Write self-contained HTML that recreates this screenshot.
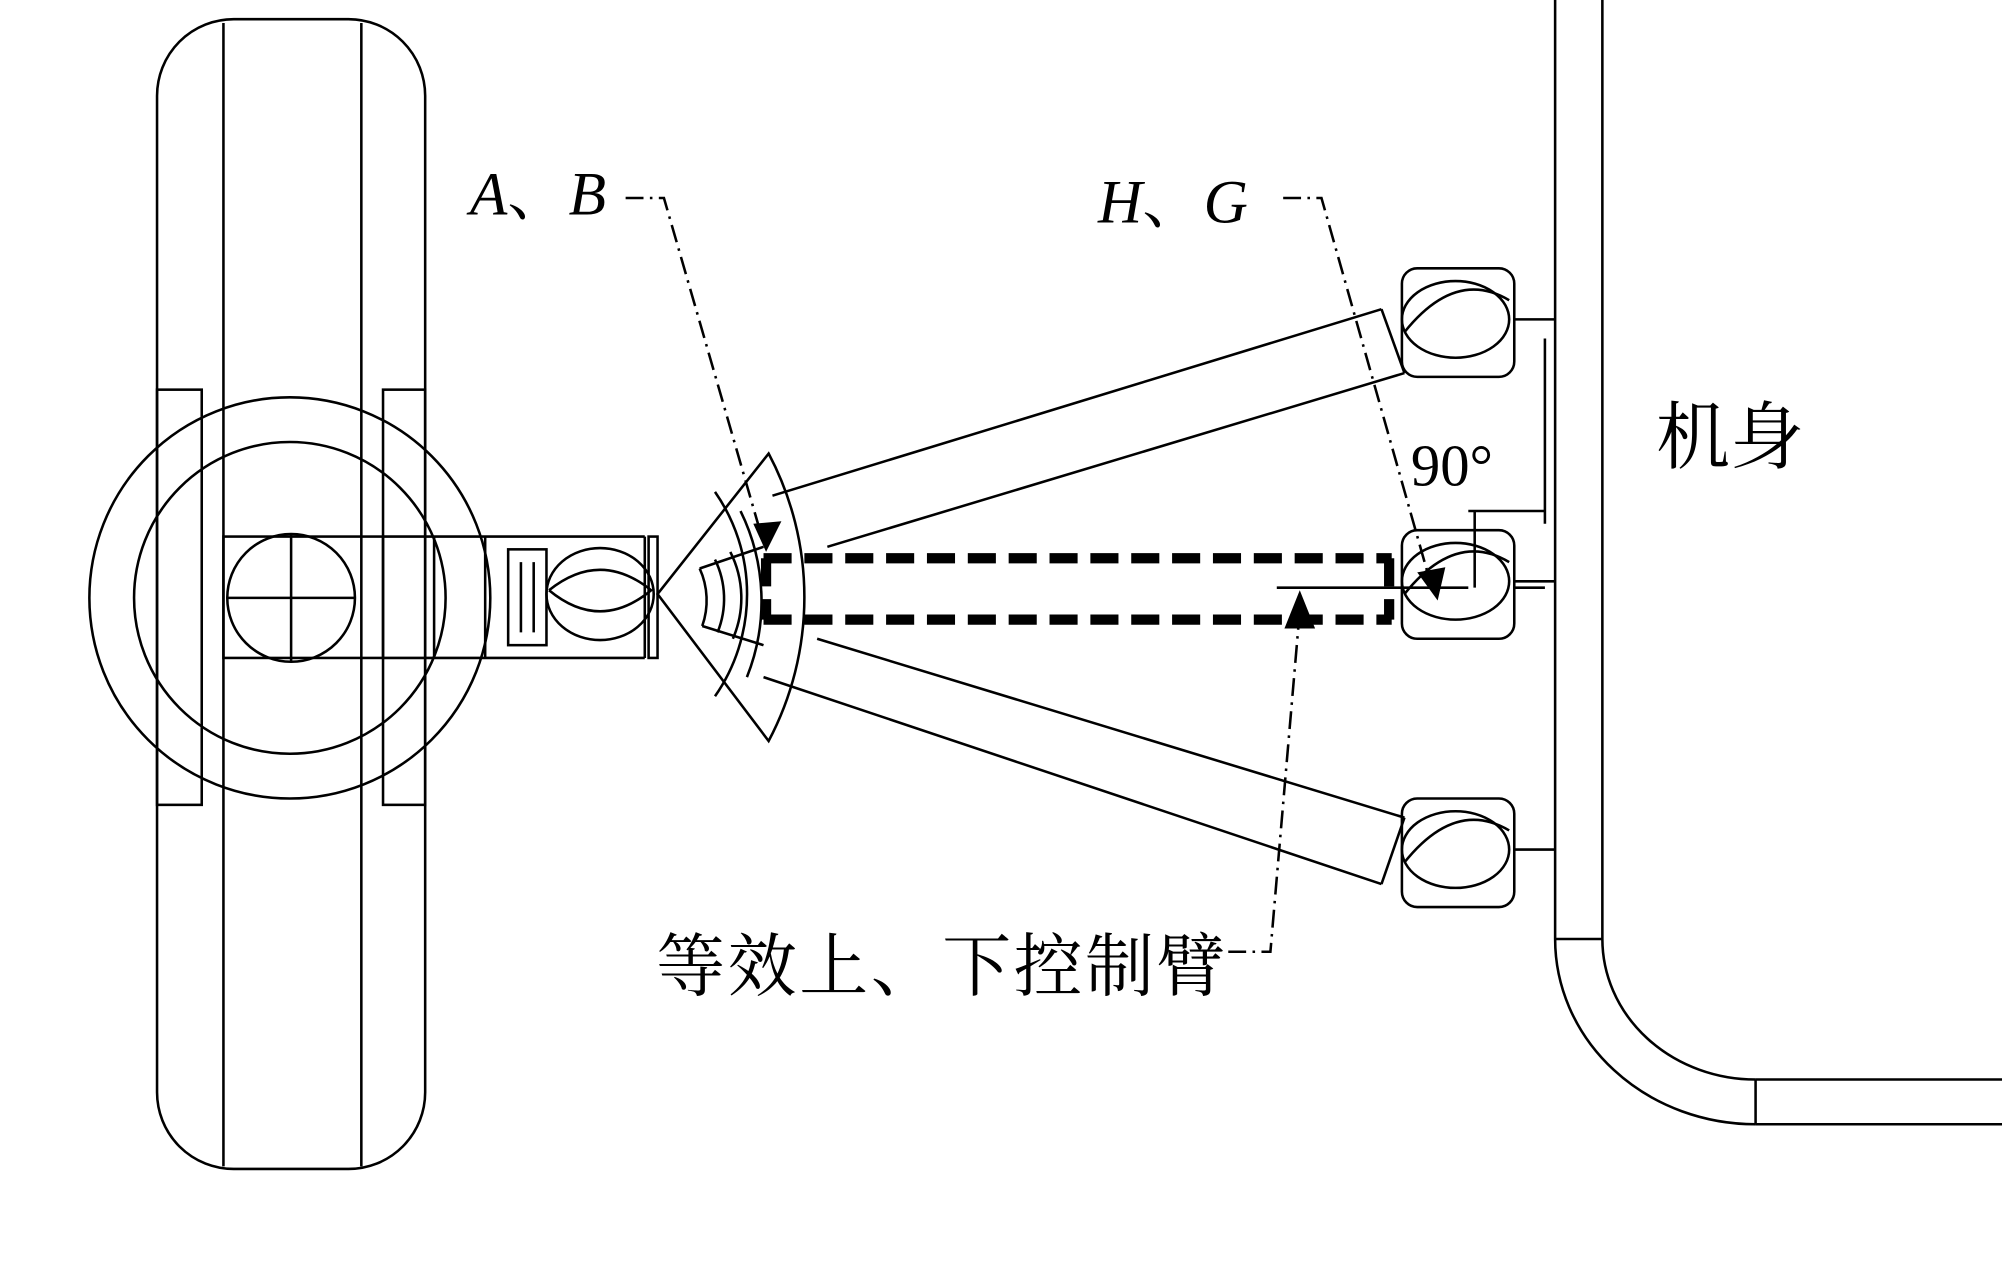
<!DOCTYPE html>
<html><head><meta charset="utf-8">
<style>
html,body{margin:0;padding:0;background:#fff;}
svg{display:block;}
</style></head>
<body>
<svg width="2002" height="1275" viewBox="0 0 1568 998" preserveAspectRatio="none" xmlns="http://www.w3.org/2000/svg">
<g fill="none" stroke="#000" stroke-width="2">
<rect x="123" y="15" width="210" height="900" rx="60"/>
<line x1="175" y1="18" x2="175" y2="913"/>
<line x1="283" y1="18" x2="283" y2="913"/>
<rect x="123" y="305" width="35" height="325"/>
<rect x="300" y="305" width="33" height="325"/>
<circle cx="227" cy="468" r="157"/>
<circle cx="227" cy="468" r="122"/>
<rect x="175" y="420" width="125" height="95"/>
<circle cx="228" cy="468" r="50"/>
<line x1="228" y1="418" x2="228" y2="518"/>
<line x1="178" y1="468" x2="278" y2="468"/>
<line x1="300" y1="420" x2="505" y2="420"/>
<line x1="300" y1="515" x2="505" y2="515"/>
<line x1="340" y1="420" x2="340" y2="515"/>
<line x1="380" y1="420" x2="380" y2="515"/>
<rect x="398" y="430" width="30" height="75"/>
<line x1="408" y1="440" x2="408" y2="495"/>
<line x1="418" y1="440" x2="418" y2="495"/>
<line x1="505" y1="420" x2="505" y2="515"/>
<ellipse cx="470" cy="465" rx="42" ry="36"/>
<path d="M430 462 Q470 430 510 462 Q470 495 430 462"/>
<rect x="508" y="420" width="7" height="95"/>
<path d="M515 465 L602 355 A240 240 0 0 1 602 580 Z"/>
<path d="M560 385 A140 140 0 0 1 560 545"/>
<path d="M580 400 A160 160 0 0 1 585 530"/>
<path d="M548 445 A60 60 0 0 1 550 490"/>
<path d="M560 438 A70 70 0 0 1 562 495"/>
<path d="M572 432 A80 80 0 0 1 574 500"/>
<line x1="548" y1="445" x2="598" y2="428"/>
<line x1="550" y1="490" x2="598" y2="505"/>
<line x1="605" y1="388" x2="1082" y2="242"/>
<line x1="648" y1="428" x2="1100" y2="292"/>
<line x1="1082" y1="242" x2="1100" y2="292"/>
<line x1="598" y1="530" x2="1082" y2="692"/>
<line x1="640" y1="500" x2="1100" y2="640"/>
<line x1="1082" y1="692" x2="1100" y2="640"/>
<g id="bu">
<rect x="1098" y="210" width="88" height="85" rx="12"/>
<ellipse cx="1140" cy="250" rx="42" ry="30"/>
<path d="M1100 260 Q1140 210 1182 235"/>
<line x1="1186" y1="250" x2="1218" y2="250"/>
</g>
<use href="#bu" y="205"/>
<use href="#bu" y="415"/>
<line x1="1186" y1="460" x2="1210" y2="460"/>
<line x1="1210" y1="265" x2="1210" y2="410"/>
<line x1="1150" y1="400" x2="1210" y2="400"/>
<line x1="1155" y1="400" x2="1155" y2="460"/>
<line x1="1000" y1="460" x2="1150" y2="460"/>
<line x1="1218" y1="0" x2="1218" y2="735"/>
<line x1="1255" y1="0" x2="1255" y2="735"/>
<line x1="1218" y1="735" x2="1255" y2="735"/>
<path d="M1218 735 A157 145 0 0 0 1375 880"/>
<path d="M1255 735 A120 110 0 0 0 1375 845"/>
<line x1="1375" y1="845" x2="1568" y2="845"/>
<line x1="1375" y1="880" x2="1568" y2="880"/>
<line x1="1375" y1="845" x2="1375" y2="880"/>
</g>
<g fill="none" stroke="#000" stroke-width="8" stroke-dasharray="22 10">
<line x1="598" y1="437" x2="1090" y2="437"/>
<line x1="598" y1="485" x2="1090" y2="485"/>
<line x1="600" y1="437" x2="600" y2="485"/>
<line x1="1088" y1="437" x2="1088" y2="485"/>
</g>
<g fill="none" stroke="#000" stroke-width="2" stroke-dasharray="14 5 2 5">
<polyline points="490,155 520,155 598,425"/>
<polyline points="1005,155 1035,155 1122,462"/>
<polyline points="962,745 995,745 1018,478"/>
</g>
<polygon points="600,432 590,410 612,408" fill="#000"/>
<polygon points="1126,470 1110,448 1132,444" fill="#000"/>
<polygon points="1018,462 1006,492 1030,492" fill="#000"/>
<g font-family="Liberation Serif, Noto Serif CJK SC, serif" fill="#000">
<text x="368" y="168" font-size="48" font-style="italic">A<tspan font-style="normal">、</tspan>B</text>
<text x="860" y="174" font-size="48" font-style="italic">H<tspan font-style="normal">、</tspan>G</text>
<text x="1105" y="380" font-size="46">90°</text>
<text x="1297" y="362" font-size="58" font-family="Noto Serif CJK SC, serif">机身</text>
<text x="514" y="775" font-size="54" letter-spacing="2" font-family="Noto Serif CJK SC, serif">等效上、下控制臂</text>
</g>
</svg>
</body></html>
